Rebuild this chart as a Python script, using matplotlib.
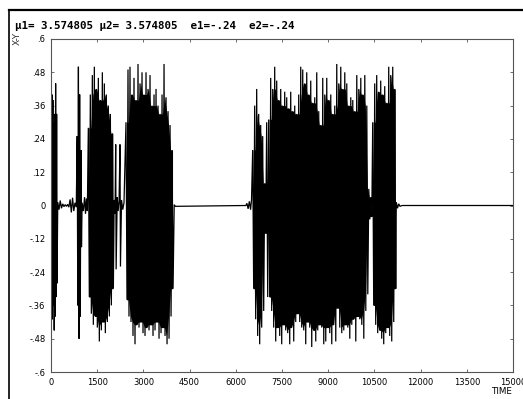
import numpy as np
import matplotlib
matplotlib.use("Agg")
import matplotlib.pyplot as plt
from matplotlib.lines import Line2D

# title / labels
title = "\u03bc1= 3.574805 \u03bc2= 3.574805  e1=-.24  e2=-.24"
xticks = [0, 1500, 3000, 4500, 6000, 7500, 9000, 10500, 12000, 13500, 15000]
yticks = [0.6, 0.48, 0.36, 0.24, 0.12, 0, -0.12, -0.24, -0.36, -0.48, -0.6]
ytick_labels = [".6", ".48", ".36", ".24", ".12", "0",
                "-.12", "-.24", "-.36", "-.48", "-.6"]

# X-Y read off the picture as local extremes (time, value)
# quiet stretches: explicit extremes
n1_t = [220, 260, 300, 340, 380, 420, 460, 500, 540, 580, 620, 660, 700, 740, 780, 820]
n1_v = [0.012, -0.015, 0.018, -0.010, 0.006, -0.004, 0.003, -0.003,
        0.004, -0.006, 0.022, -0.025, 0.028, -0.020, 0.010, -0.006]
s1_t = [850, 870, 890, 910, 930, 950, 970, 990]
s1_v = [0.25, -0.36, 0.50, -0.48, 0.40, -0.40, 0.20, -0.15]
n2_t = [1010, 1050, 1090, 1120, 1150, 1180]
n2_v = [0.01, -0.02, 0.03, -0.03, 0.025, -0.02]
n3_t = [2050, 2080, 2100, 2115, 2150, 2180, 2210, 2240, 2255, 2290, 2330, 2370]
n3_v = [0.02, -0.03, 0.22, -0.23, 0.03, -0.02, 0.015, 0.22, -0.22, 0.02, -0.015, 0.01]
flat_t = [4000, 4040, 6330]
flat_v = [0.003, -0.003, 0.0]
n4_t = [6360, 6400, 6440, 6480, 6510]
n4_v = [0.008, -0.012, 0.015, -0.015, 0.02]
tail_t = [11210, 11250, 11290, 11330, 11400, 15000]
tail_v = [0.012, -0.010, 0.006, -0.003, 0.0, 0.0]

# bursts: start time, spacing of upper peaks, upper and lower peaks
b1_start, b1_step = 0, 30
b1_top = [0.25, 0.40, 0.38, 0.30, 0.33, 0.44, 0.33]
b1_bot = [-0.38, -0.41, -0.36, -0.45, -0.40, -0.33, -0.28]

bc_start, bc_step = 1212, 65
bc_top = [0.28, 0.40, 0.47, 0.50, 0.42, 0.46, 0.38, 0.48, 0.44, 0.40, 0.36, 0.33, 0.26]
bc_bot = [-0.33, -0.39, -0.43, -0.40, -0.44, -0.49, -0.45, -0.42, -0.46, -0.42, -0.40, -0.36, -0.30]

bd_start, bd_step = 2435, 65
bd_top = [0.30, 0.49, 0.50, 0.40, 0.46, 0.38, 0.51, 0.44, 0.48, 0.40, 0.48, 0.42,
          0.47, 0.36, 0.40, 0.42, 0.36, 0.33, 0.40, 0.51, 0.39, 0.34, 0.29, 0.20]
bd_bot = [-0.34, -0.40, -0.42, -0.47, -0.50, -0.43, -0.44, -0.42, -0.46, -0.47, -0.44, -0.45,
          -0.43, -0.47, -0.45, -0.42, -0.48, -0.46, -0.44, -0.47, -0.50, -0.48, -0.40, -0.30]

be1_start, be1_step = 6548, 65
be1_top = [0.20, 0.36, 0.42, 0.33, 0.29, 0.25, 0.08, 0.30]
be1_bot = [-0.30, -0.41, -0.47, -0.50, -0.44, -0.38, -0.10, -0.33]

be2_start, be2_step = 7068, 65
be2_top = [0.31, 0.46, 0.42, 0.50, 0.45, 0.38, 0.42, 0.36, 0.41, 0.39,
           0.35, 0.41, 0.34, 0.36, 0.33, 0.40, 0.50, 0.49, 0.44, 0.48,
           0.40, 0.45, 0.37, 0.39, 0.48, 0.34, 0.29, 0.46, 0.40, 0.46,
           0.38, 0.40, 0.33, 0.36, 0.51, 0.44, 0.50, 0.42, 0.48, 0.44,
           0.36, 0.39, 0.38, 0.34, 0.47, 0.42, 0.46, 0.40, 0.47, 0.36,
           0.06, 0.03]
be2_bot = [-0.33, -0.38, -0.44, -0.49, -0.44, -0.47, -0.50, -0.43, -0.45, -0.46,
           -0.50, -0.44, -0.49, -0.42, -0.39, -0.42, -0.44, -0.45, -0.50, -0.42,
           -0.44, -0.51, -0.45, -0.49, -0.45, -0.43, -0.44, -0.50, -0.49, -0.44,
           -0.46, -0.50, -0.43, -0.49, -0.37, -0.44, -0.46, -0.45, -0.43, -0.44,
           -0.48, -0.43, -0.41, -0.49, -0.40, -0.41, -0.43, -0.48, -0.38, -0.32,
           -0.05, -0.04]

be3_start, be3_step = 10445, 65
be3_top = [0.30, 0.44, 0.47, 0.41, 0.45, 0.40, 0.43, 0.37, 0.50, 0.47, 0.50, 0.42]
be3_bot = [-0.36, -0.43, -0.46, -0.45, -0.48, -0.50, -0.46, -0.44, -0.47, -0.49, -0.42, -0.30]

bursts = [
    (b1_start, b1_step, b1_top, b1_bot),
    (bc_start, bc_step, bc_top, bc_bot),
    (bd_start, bd_step, bd_top, bd_bot),
    (be1_start, be1_step, be1_top, be1_bot),
    (be2_start, be2_step, be2_top, be2_bot),
    (be3_start, be3_step, be3_top, be3_bot),
]


def burst(start, step, top, bot):
    n = len(top)
    tt = start + step * np.arange(n)
    t = np.column_stack([tt, tt + step / 2]).ravel()
    v = np.column_stack([top, bot]).ravel()
    return t, v


def rolling(a, fn):
    a = np.asarray(a, float)
    p = np.pad(a, 1, mode="edge")
    return fn(np.vstack([p[:-2], p[1:-1], p[2:]]), axis=0)


b = [burst(*bb) for bb in bursts]
pieces = [
    b[0], (n1_t, n1_v), (s1_t, s1_v), (n2_t, n2_v),
    b[1], (n3_t, n3_v), b[2],
    (flat_t, flat_v), (n4_t, n4_v),
    b[3], b[4], b[5],
    (tail_t, tail_v),
]
time = np.concatenate([np.asarray(p[0], float) for p in pieces])
xy = np.concatenate([np.asarray(p[1], float) for p in pieces])

fig = plt.figure(figsize=(5.23, 3.99), dpi=100)
ax = fig.add_axes([51 / 523, 27 / 399, 462 / 523, 333 / 399])

# dense core of each burst, then the trace itself on top
for start, step, top, bot in bursts:
    tt = start + step * np.arange(len(top)) + step / 4
    ax.fill_between(tt, rolling(bot, np.max), rolling(top, np.min),
                    color="black", lw=0)
ax.plot(time, xy, color="black", lw=0.9, solid_joinstyle="miter")

ax.set_xlim(0, 15000)
ax.set_ylim(-0.6, 0.6)
ax.set_xticks(xticks)
ax.set_xticklabels([str(x) for x in xticks])
ax.set_yticks(yticks)
ax.set_yticklabels(ytick_labels)
ax.tick_params(direction="in", top=True, right=True, length=2.5, width=0.6,
               color="#555555", labelsize=6, pad=4)
for sp in ax.spines.values():
    sp.set_color("#555555")
    sp.set_linewidth(0.8)

fig.text(15 / 523, 1 - 26 / 399, title, fontsize=7.8, fontweight="bold",
         family="DejaVu Sans Mono", va="center", ha="left")
fig.text(17.5 / 523, 1 - 38 / 399, "X-Y", fontsize=6.5, rotation=90,
         va="center", ha="center", color="#333333")
fig.text(512 / 523, 1 - 392 / 399, "TIME", fontsize=6.3, va="center", ha="right")

# outer frame (top and left edges)
fig.add_artist(Line2D([8.5 / 523, 1], [1 - 9.5 / 399] * 2, color="black", lw=1.6))
fig.add_artist(Line2D([8.5 / 523] * 2, [0, 1 - 9.5 / 399], color="black", lw=1.2))

fig.savefig("out.png", dpi=100)
